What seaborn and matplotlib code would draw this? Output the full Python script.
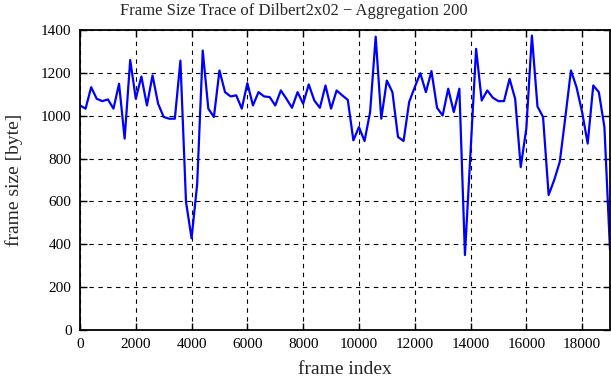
"""Frame size trace of Dilbert2x02, aggregated over 200 frames."""

import matplotlib
matplotlib.use("Agg")
import matplotlib.pyplot as plt
import numpy as np
import pandas as pd
import seaborn as sns

# ── Data ─────────────────────────────────────────────────────────────
AGG = 200
frame_size = [
    1048, 1033, 1133, 1079, 1068, 1076, 1033, 1149, 893, 1260,
    1079, 1183, 1048, 1188, 1056, 994, 986, 986, 1257, 598,
    428, 680, 1304, 1033, 994, 1211, 1110, 1090, 1095, 1033,
    1152, 1048, 1110, 1090, 1087, 1048, 1118, 1079, 1037, 1110,
    1056, 1146, 1071, 1037, 1141, 1033, 1118, 1095, 1074, 885,
    947, 882, 1017, 1369, 986, 1164, 1110, 901, 882, 1064,
    1133, 1198, 1110, 1208, 1037, 1001, 1126, 1017, 1126, 350,
    830, 1312, 1071, 1118, 1084, 1068, 1068, 1172, 1079, 760,
    940, 1374, 1043, 994, 630, 700, 785, 994, 1211, 1133,
    1017, 870, 1141, 1110, 947, 374,
]
frame_index = np.arange(len(frame_size)) * AGG
x_ticks = list(range(0, 18001, 2000))
y_ticks = list(range(0, 1401, 200))

df = pd.DataFrame({"frame index": frame_index, "frame size": frame_size})

# ── Style ────────────────────────────────────────────────────────────
sns.set_style("ticks")
plt.rcParams.update({
    "font.family": ["Liberation Serif", "DejaVu Serif"],
    "axes.linewidth": 1.3,
    "xtick.direction": "in",
    "ytick.direction": "in",
    "xtick.major.size": 5,
    "ytick.major.size": 5,
    "xtick.major.width": 1.0,
    "ytick.major.width": 1.0,
    "xtick.top": True,
    "ytick.right": True,
})

fig = plt.figure(figsize=(6.11, 3.80), dpi=100)
ax = fig.add_axes([80 / 611, 50 / 380, 530 / 611, 300 / 380])

sns.lineplot(data=df, x="frame index", y="frame size", ax=ax,
             color="#0000ff", linewidth=1.6, estimator=None)

ax.set_xlim(0, frame_index[-1])
ax.set_ylim(0, 1400)
ax.set_xticks(x_ticks)
ax.set_yticks(y_ticks)
ax.tick_params(labelsize=11, colors="black", pad=6)
ax.grid(True, color="black", linestyle=(0, (4, 4)), linewidth=0.8)
for s in ax.spines.values():
    s.set_color("black")

ax.set_xlabel("frame index", fontsize=14, labelpad=7)
ax.set_ylabel("frame size [byte]", fontsize=14, labelpad=13)
# title sits centred over the whole figure, gnuplot style
fig.text(294 / 611, 1 - 11 / 380,
         "Frame Size Trace of Dilbert2x02 \u2212 Aggregation 200",
         fontsize=12, ha="center", va="center")

fig.savefig("out.png", dpi=100, facecolor="white")
plt.close(fig)
